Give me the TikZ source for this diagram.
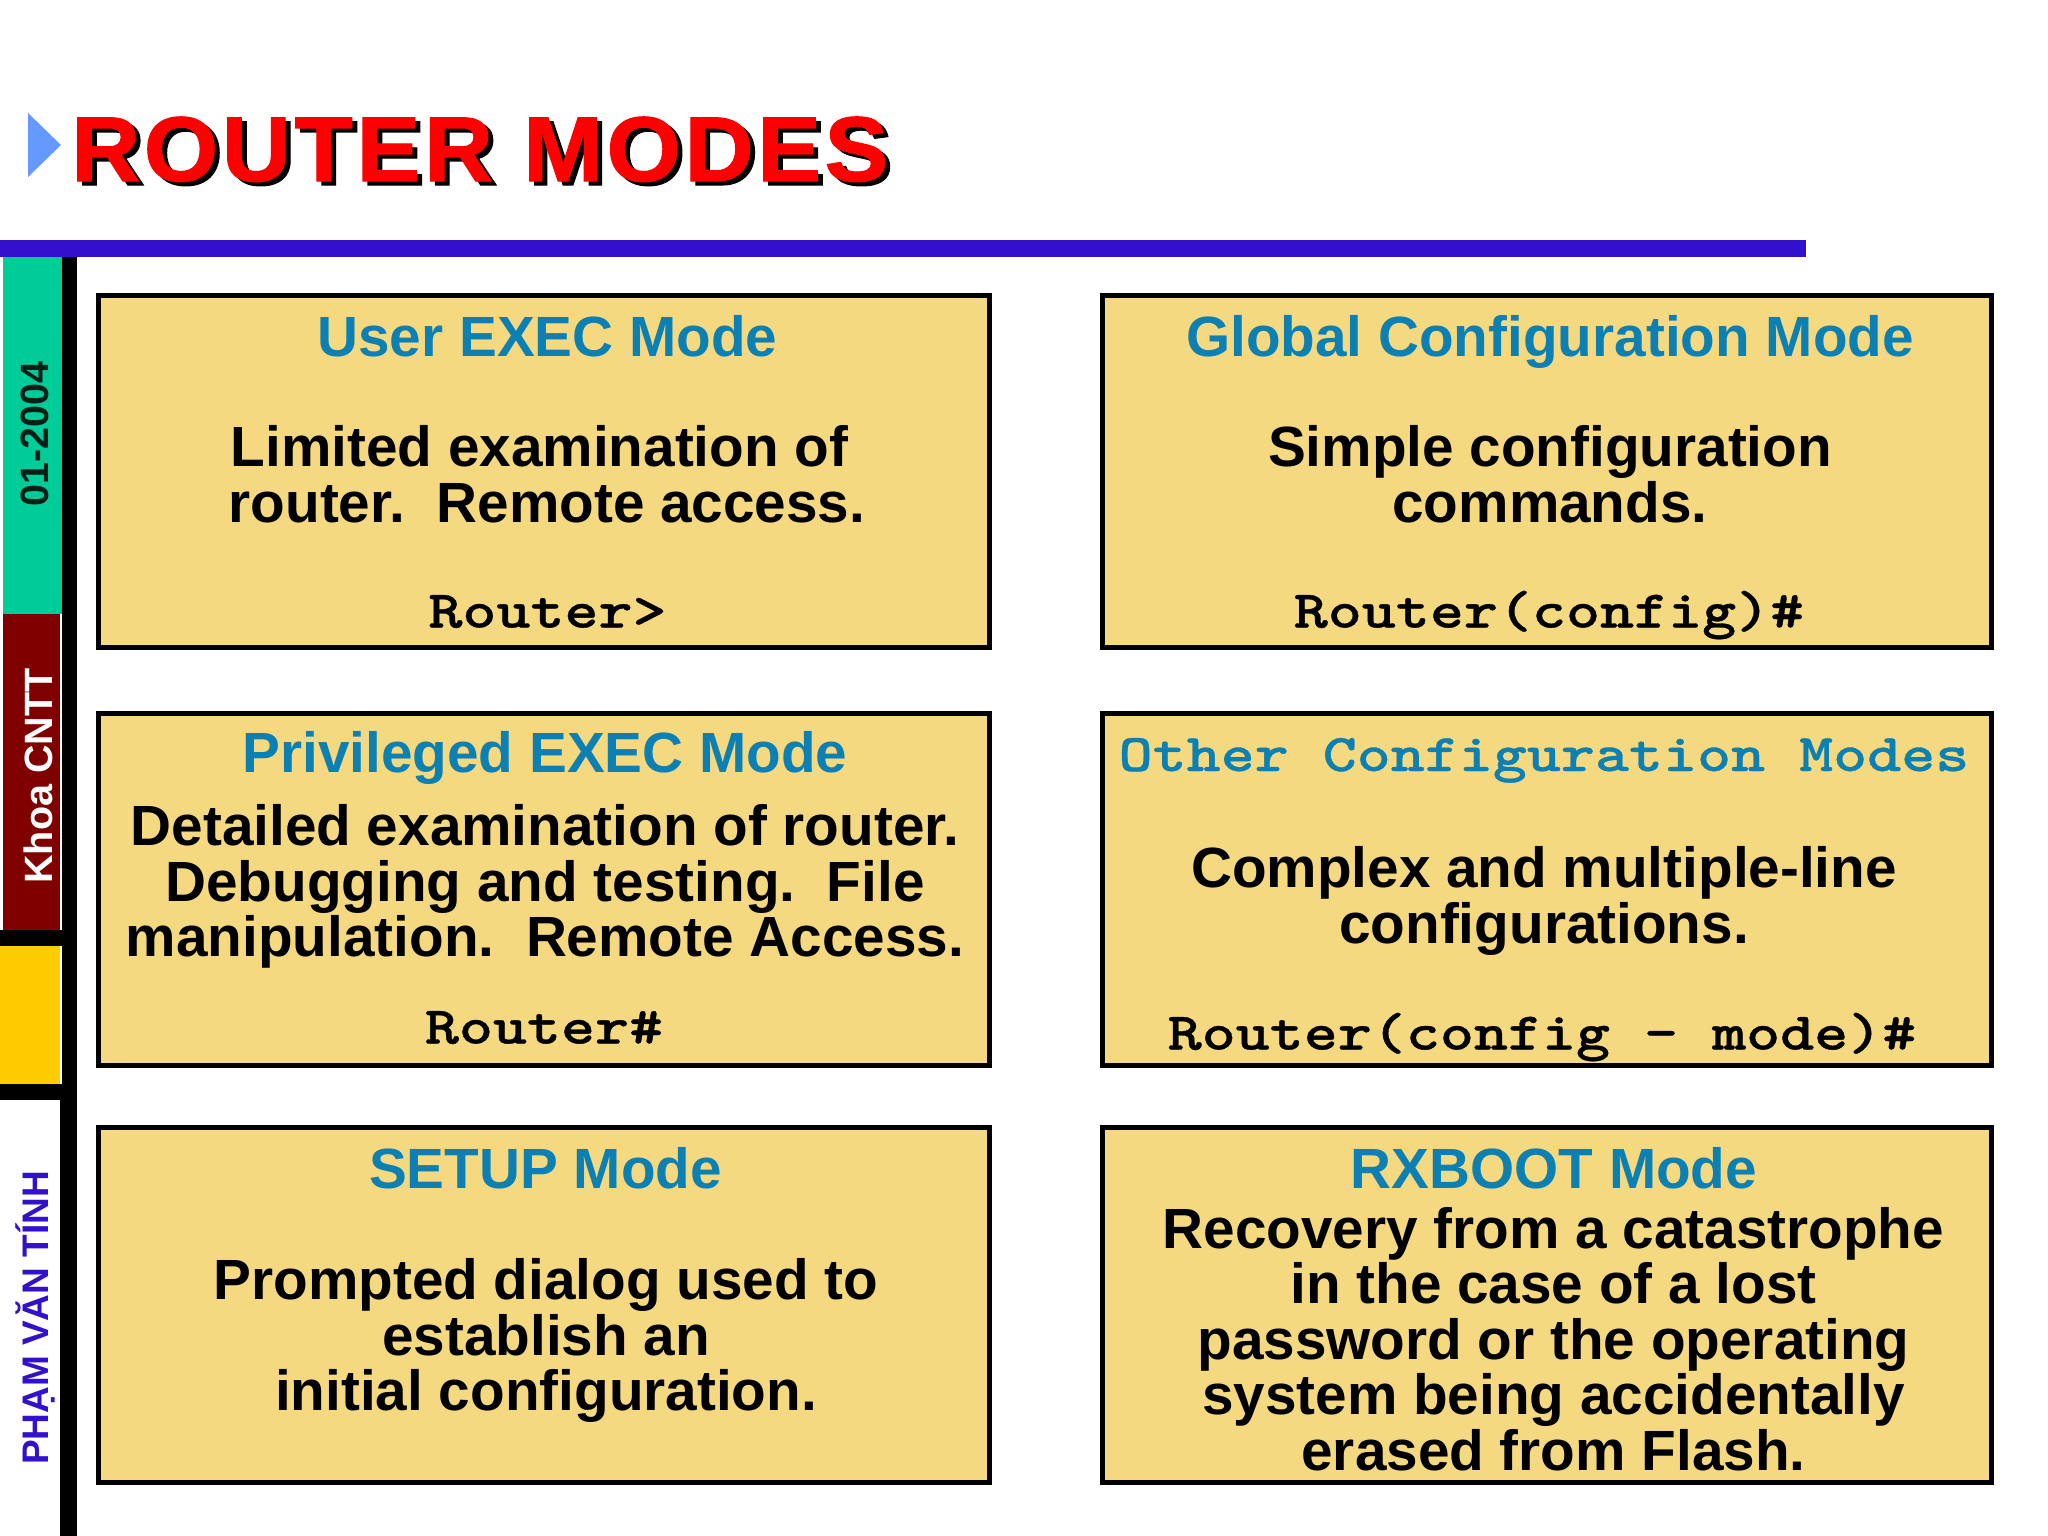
\documentclass[tikz,border=0pt]{standalone}
\usepackage{fontspec}
\setmainfont{Liberation Sans}[BoldFont={Liberation Sans Bold}]
\definecolor{barblue}{HTML}{3311CC}
\definecolor{titleteal}{HTML}{0C80B2}
\definecolor{boxfill}{HTML}{F5D981}
\definecolor{sidegreen}{HTML}{00CC99}
\definecolor{sidered}{HTML}{800000}
\definecolor{sideyellow}{HTML}{FFCC00}
\definecolor{arrowblue}{HTML}{6699FF}
\newfontfamily\titlefont{Liberation Sans Bold}[FakeBold=1.2,FakeStretch=1.04,LetterSpace=3.9]
\newfontfamily\promptfont{lmmonolt10-bold.otf}[FakeStretch=1.223,FakeBold=0.6]
\tikzset{
  modebox/.style={draw=black,line width=5pt,fill=boxfill,inner sep=0pt},
  modetitle/.style={anchor=base,inner sep=0pt,text=titleteal,font=\fontsize{56.7}{56}\selectfont\bfseries},
  monotitle/.style={anchor=base,inner sep=0pt,text=titleteal,font=\fontsize{53}{56}\selectfont\promptfont},
  bodytext/.style={anchor=base,inner sep=0pt,align=center,text=black,font=\fontsize{56.7}{55.5}\selectfont\bfseries},
  prompt/.style={anchor=base,inner sep=0pt,text=black,font=\fontsize{53}{56}\selectfont\promptfont},
  sidetext/.style={anchor=base,rotate=90,inner sep=0pt,font=\fontsize{39.5}{40}\selectfont\bfseries},
  slidetitle/.style={anchor=base west,inner sep=0pt,font=\fontsize{92}{95}\selectfont\titlefont}
}
\begin{document}
\begin{tikzpicture}[x=1pt,y=-1pt]
\path[use as bounding box,fill=white] (0,0) rectangle (2048,1536);
% header
\fill[arrowblue] (28,113) -- (61,145) -- (28,177) -- cycle;
\node[slidetitle,text=black] (titleshadow) at (76,185) {ROUTER MODES};
\node[slidetitle,text=red] (title) at (71,181) {ROUTER MODES};
\fill[barblue] (0,240) rectangle (1806,257);
% side strip
\fill[black] (62,257) rectangle (77,1536);
\fill[sidegreen] (3,257) rectangle (62,614);
\fill[sidered] (3,614) rectangle (60,930);
\fill[black] (0,930) rectangle (62,946);
\fill[sideyellow] (0,946) rectangle (60,1084);
\fill[black] (0,1084) rectangle (62,1100);
\fill[black] (60,1100) rectangle (77,1536);
\node[sidetext,text=black!85!sidegreen] (sdate) at (48,434) {01-2004};
\node[sidetext,text=white] (sdept) at (52,776) {Khoa CNTT};
\node[sidetext,text=barblue,font=\fontsize{37}{40}\selectfont\bfseries] (sname) at (48,1318) {PHẠM VĂN TÍNH};
% boxes
\node[modebox,minimum width=891pt,minimum height=352pt] (b1) at (544,471.5) {};
\node[modebox,minimum width=889pt,minimum height=352pt] (b2) at (1547,471.5) {};
\node[modebox,minimum width=891pt,minimum height=352pt] (b3) at (544,889) {};
\node[modebox,minimum width=889pt,minimum height=352pt] (b4) at (1547,889) {};
\node[modebox,minimum width=891pt,minimum height=355pt] (b5) at (544,1305) {};
\node[modebox,minimum width=889pt,minimum height=355pt] (b6) at (1547,1305) {};
% box 1
\node[modetitle] (t1) at (547.5,356) {User EXEC Mode};
\node[bodytext] (d1) at (547,522) {Limited examination of\mbox{\hspace{15pt}}\\router.\ \ Remote access.};
\node[prompt] (p1) at (547.5,627.5) {Router>};
% box 2
\node[modetitle] (t2) at (1550,356) {Global Configuration Mode};
\node[bodytext] (d2) at (1550,522) {Simple configuration\\commands.};
\node[prompt] (p2) at (1549,627.5) {Router(config)\#};
% box 3
\node[modetitle] (t3) at (545,772) {Privileged EXEC Mode};
\node[bodytext] (d3) at (545,956.5) {Detailed examination of router.\\Debugging and testing.\ \ File\\manipulation.\ \ Remote Access.};
\node[prompt] (p3) at (544,1043.5) {Router\#};
% box 4
\node[monotitle] (t4) at (1544,771) {Other Configuration Modes};
\node[bodytext] (d4) at (1544,943) {Complex and multiple-line\\configurations.};
\node[prompt] (p4) at (1542,1049.5) {Router(config - mode)\#};
% box 5
\node[modetitle] (t5) at (545.5,1188) {SETUP Mode};
\node[bodytext] (d5) at (546,1410.5) {Prompted dialog used to\\establish an\\initial configuration.};
% box 6
\node[modetitle] (t6) at (1554,1188) {RXBOOT Mode};
\node[bodytext] (d6) at (1553.5,1470) {Recovery from a catastrophe\\in the case of a lost\\password or the operating\\system being accidentally\\erased from Flash.};
\end{tikzpicture}
\end{document}
